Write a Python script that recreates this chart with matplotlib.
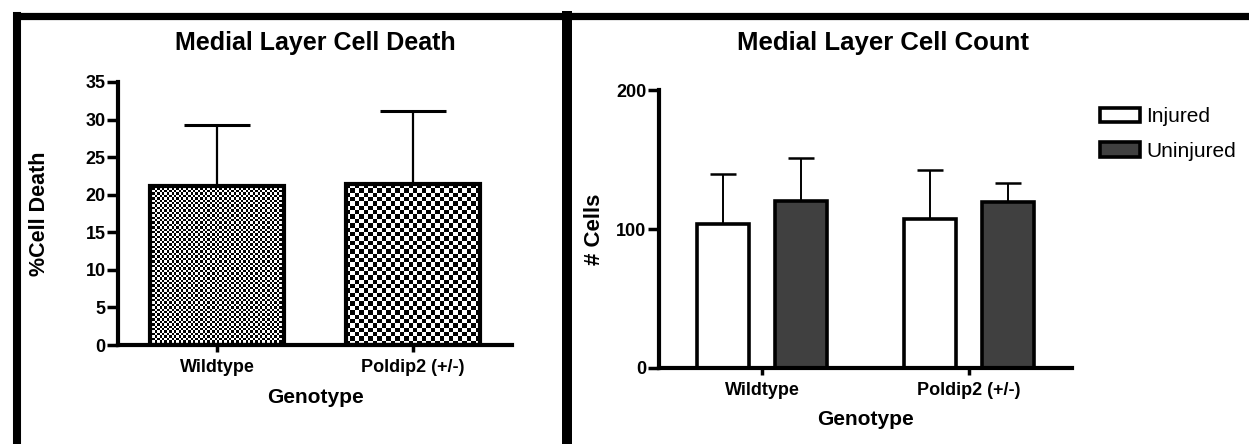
import numpy as np
import matplotlib
matplotlib.use('Agg')
import matplotlib.pyplot as plt
from matplotlib.lines import Line2D

plt.rcParams['font.family'] = ['Liberation Sans', 'DejaVu Sans']

# ---- data ----
genotypes = ['Wildtype', 'Poldip2 (+/-)']

death_mean = [21.2, 21.4]
death_err = [8.1, 9.8]

injured_mean = [103.5, 107.2]
injured_err = [36.0, 35.0]
uninjured_mean = [120.1, 119.2]
uninjured_err = [31.2, 14.1]

W, H = 1249.0, 444.0
fig = plt.figure(figsize=(W / 100, H / 100), dpi=100)

# black frame around the two panels
def fig_line(x0, y0, x1, y1, lw):
    fig.add_artist(Line2D([x0 / W, x1 / W], [1 - y0 / H, 1 - y1 / H],
                          color='black', lw=lw, solid_capstyle='projecting'))

fig_line(17, 16.5, 1260, 16.5, 5.2)
fig_line(17, 16.5, 17, 460, 5.8)
fig_line(567, 16.5, 567, 460, 7.2)


def checker(ax, bar, cell):
    # fill a bar with a checkerboard of `cell` pixels
    x0, y0 = bar.get_x(), bar.get_y()
    x1, y1 = x0 + bar.get_width(), y0 + bar.get_height()
    (px0, py0), (px1, py1) = ax.transData.transform([(x0, y0), (x1, y1)])
    nx = max(1, int(round(abs(px1 - px0) / cell)))
    ny = max(1, int(round(abs(py1 - py0) / cell)))
    board = (np.add.outer(np.arange(ny), np.arange(nx)) % 2).astype(float)
    im = ax.imshow(board, cmap='gray', vmin=0, vmax=1, extent=(x0, x1, y0, y1),
                   interpolation='nearest', aspect='auto', zorder=1.5)
    im.set_clip_path(bar)


def style_axes(ax):
    for s in ['top', 'right']:
        ax.spines[s].set_visible(False)
    for s in ['left', 'bottom']:
        ax.spines[s].set_linewidth(3)
    ax.tick_params(axis='y', length=8, width=2.5, labelsize=13, pad=1)
    ax.tick_params(axis='x', length=5, width=2.5, labelsize=13, pad=5)
    for t in ax.get_xticklabels() + ax.get_yticklabels():
        t.set_fontweight('bold')


# ---- left panel: cell death ----
ax1 = fig.add_axes([118 / W, 1 - 345 / H, 394 / W, 263 / H])
x = np.arange(len(genotypes))
ax1.set_xlim(-0.505, 1.505)
ax1.set_ylim(0, 35)
ax1.errorbar(x, death_mean, yerr=[[0, 0], death_err], fmt='none', ecolor='black',
             elinewidth=1.6, capsize=24, capthick=2.2, zorder=1)
bars = ax1.bar(x, death_mean, width=0.68, color='white', edgecolor='none', zorder=1.2)
ax1.bar(x, death_mean, width=0.68, facecolor='none', edgecolor='black', linewidth=3, zorder=3)
checker(ax1, bars[0], 2.4)
checker(ax1, bars[1], 4.4)
ax1.set_xticks(x)
ax1.set_xticklabels(genotypes)
ax1.set_yticks(np.arange(0, 36, 5))
style_axes(ax1)
fig.text(315 / W, 1 - 43 / H, 'Medial Layer Cell Death', fontsize=18, fontweight='bold',
         ha='center', va='center')
ax1.set_xlabel('Genotype', fontsize=15, fontweight='bold')
ax1.set_ylabel('%Cell Death', fontsize=15.5, fontweight='bold')
ax1.xaxis.set_label_coords(0.5, -0.198)
ax1.xaxis.label.set_va('center')
ax1.yaxis.set_label_coords(-0.2, 0.5)
ax1.yaxis.label.set_va('center')

# ---- right panel: cell count ----
ax2 = fig.add_axes([659 / W, 1 - 368 / H, 413 / W, 278 / H])
ax2.set_xlim(-0.498, 1.498)
ax2.set_ylim(0, 200)
off, w = 0.187, 0.25
ax2.errorbar(x - off, injured_mean, yerr=[[0, 0], injured_err], fmt='none', ecolor='black',
             elinewidth=1.4, capsize=9.5, capthick=1.8, zorder=1)
ax2.errorbar(x + off, uninjured_mean, yerr=[[0, 0], uninjured_err], fmt='none', ecolor='black',
             elinewidth=1.4, capsize=9.5, capthick=1.8, zorder=1)
ax2.bar(x - off, injured_mean, width=w, color='white', edgecolor='black', linewidth=2.6,
        zorder=2, label='Injured')
ax2.bar(x + off, uninjured_mean, width=w, color='#404040', edgecolor='black', linewidth=2.6,
        zorder=2, label='Uninjured')
ax2.set_xticks(x)
ax2.set_xticklabels(genotypes)
ax2.set_yticks([0, 100, 200])
style_axes(ax2)
fig.text(883 / W, 1 - 43 / H, 'Medial Layer Cell Count', fontsize=18.5, fontweight='bold',
         ha='center', va='center')
ax2.set_xlabel('Genotype', fontsize=15, fontweight='bold')
ax2.set_ylabel('# Cells', fontsize=16, fontweight='bold')
ax2.xaxis.set_label_coords(0.5, -0.187)
ax2.xaxis.label.set_va('center')
ax2.yaxis.set_label_coords(-0.157, 0.5)
ax2.yaxis.label.set_va('center')

leg = ax2.legend(loc='upper left', bbox_to_anchor=(1090 / W, 1 - 97 / H),
                 bbox_transform=fig.transFigure, frameon=False, fontsize=15,
                 handlelength=1.9, handleheight=0.7, handletextpad=0.3,
                 labelspacing=0.75, borderpad=0)

fig.savefig('out.png', dpi=100)
